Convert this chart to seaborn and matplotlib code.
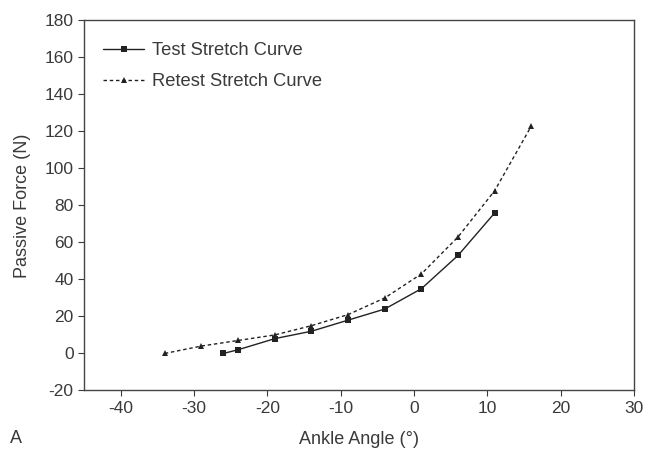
import numpy as np
import pandas as pd
import matplotlib
matplotlib.use("Agg")
import matplotlib.pyplot as plt
import seaborn as sns

# values
test_angle = [-26, -24, -19, -14, -9, -4, 1, 6, 11]
test_force = [0, 2, 8, 12, 18, 24, 35, 53, 76]
retest_angle = [-34, -29, -24, -19, -14, -9, -4, 1, 6, 11, 16]
retest_force = [0, 4, 7, 10, 15, 21, 30, 43, 63, 88, 123]

sns.set_style("ticks")
plt.rcParams['font.family'] = ['Liberation Sans', 'DejaVu Sans']
plt.rcParams['axes.unicode_minus'] = False
txt = "#3a3a3a"

fig, ax = plt.subplots(figsize=(6.47, 4.54), dpi=100)

df_test = pd.DataFrame({"angle": test_angle, "force": test_force})
df_retest = pd.DataFrame({"angle": retest_angle, "force": retest_force})

sns.lineplot(data=df_test, x="angle", y="force", ax=ax, color="#222222",
             linewidth=1.0, marker="s", markersize=5, markeredgewidth=0,
             label="Test Stretch Curve")
sns.lineplot(data=df_retest, x="angle", y="force", ax=ax, color="#222222",
             linewidth=1.0, linestyle=(0, (2.5, 2)), marker="^", markersize=5,
             markeredgewidth=0, label="Retest Stretch Curve")

ax.set_xlim(-45, 30)
ax.set_ylim(-20, 180)
ax.set_xticks(range(-40, 31, 10))
ax.set_yticks(range(-20, 181, 20))
ax.set_xlabel("Ankle Angle (°)", fontsize=13, color=txt, labelpad=11)
ax.set_ylabel("Passive Force (N)", fontsize=13, color=txt, labelpad=10)
ax.tick_params(labelsize=12.5, colors=txt, direction="out", length=4)
for s in ax.spines.values():
    s.set_visible(True)
    s.set_color("#444444")
    s.set_linewidth(1.0)

leg = ax.legend(loc="upper left", frameon=False, fontsize=13.2,
                handlelength=2.2, handletextpad=0.45, borderaxespad=0.8,
                labelspacing=0.75, bbox_to_anchor=(-0.005, 1.0))
for t in leg.get_texts():
    t.set_color(txt)

fig.text(0.015, 0.025, "A", fontsize=13, color=txt)

plt.subplots_adjust(left=0.13, right=0.98, top=0.955, bottom=0.14)
plt.savefig("out.png", dpi=100)
